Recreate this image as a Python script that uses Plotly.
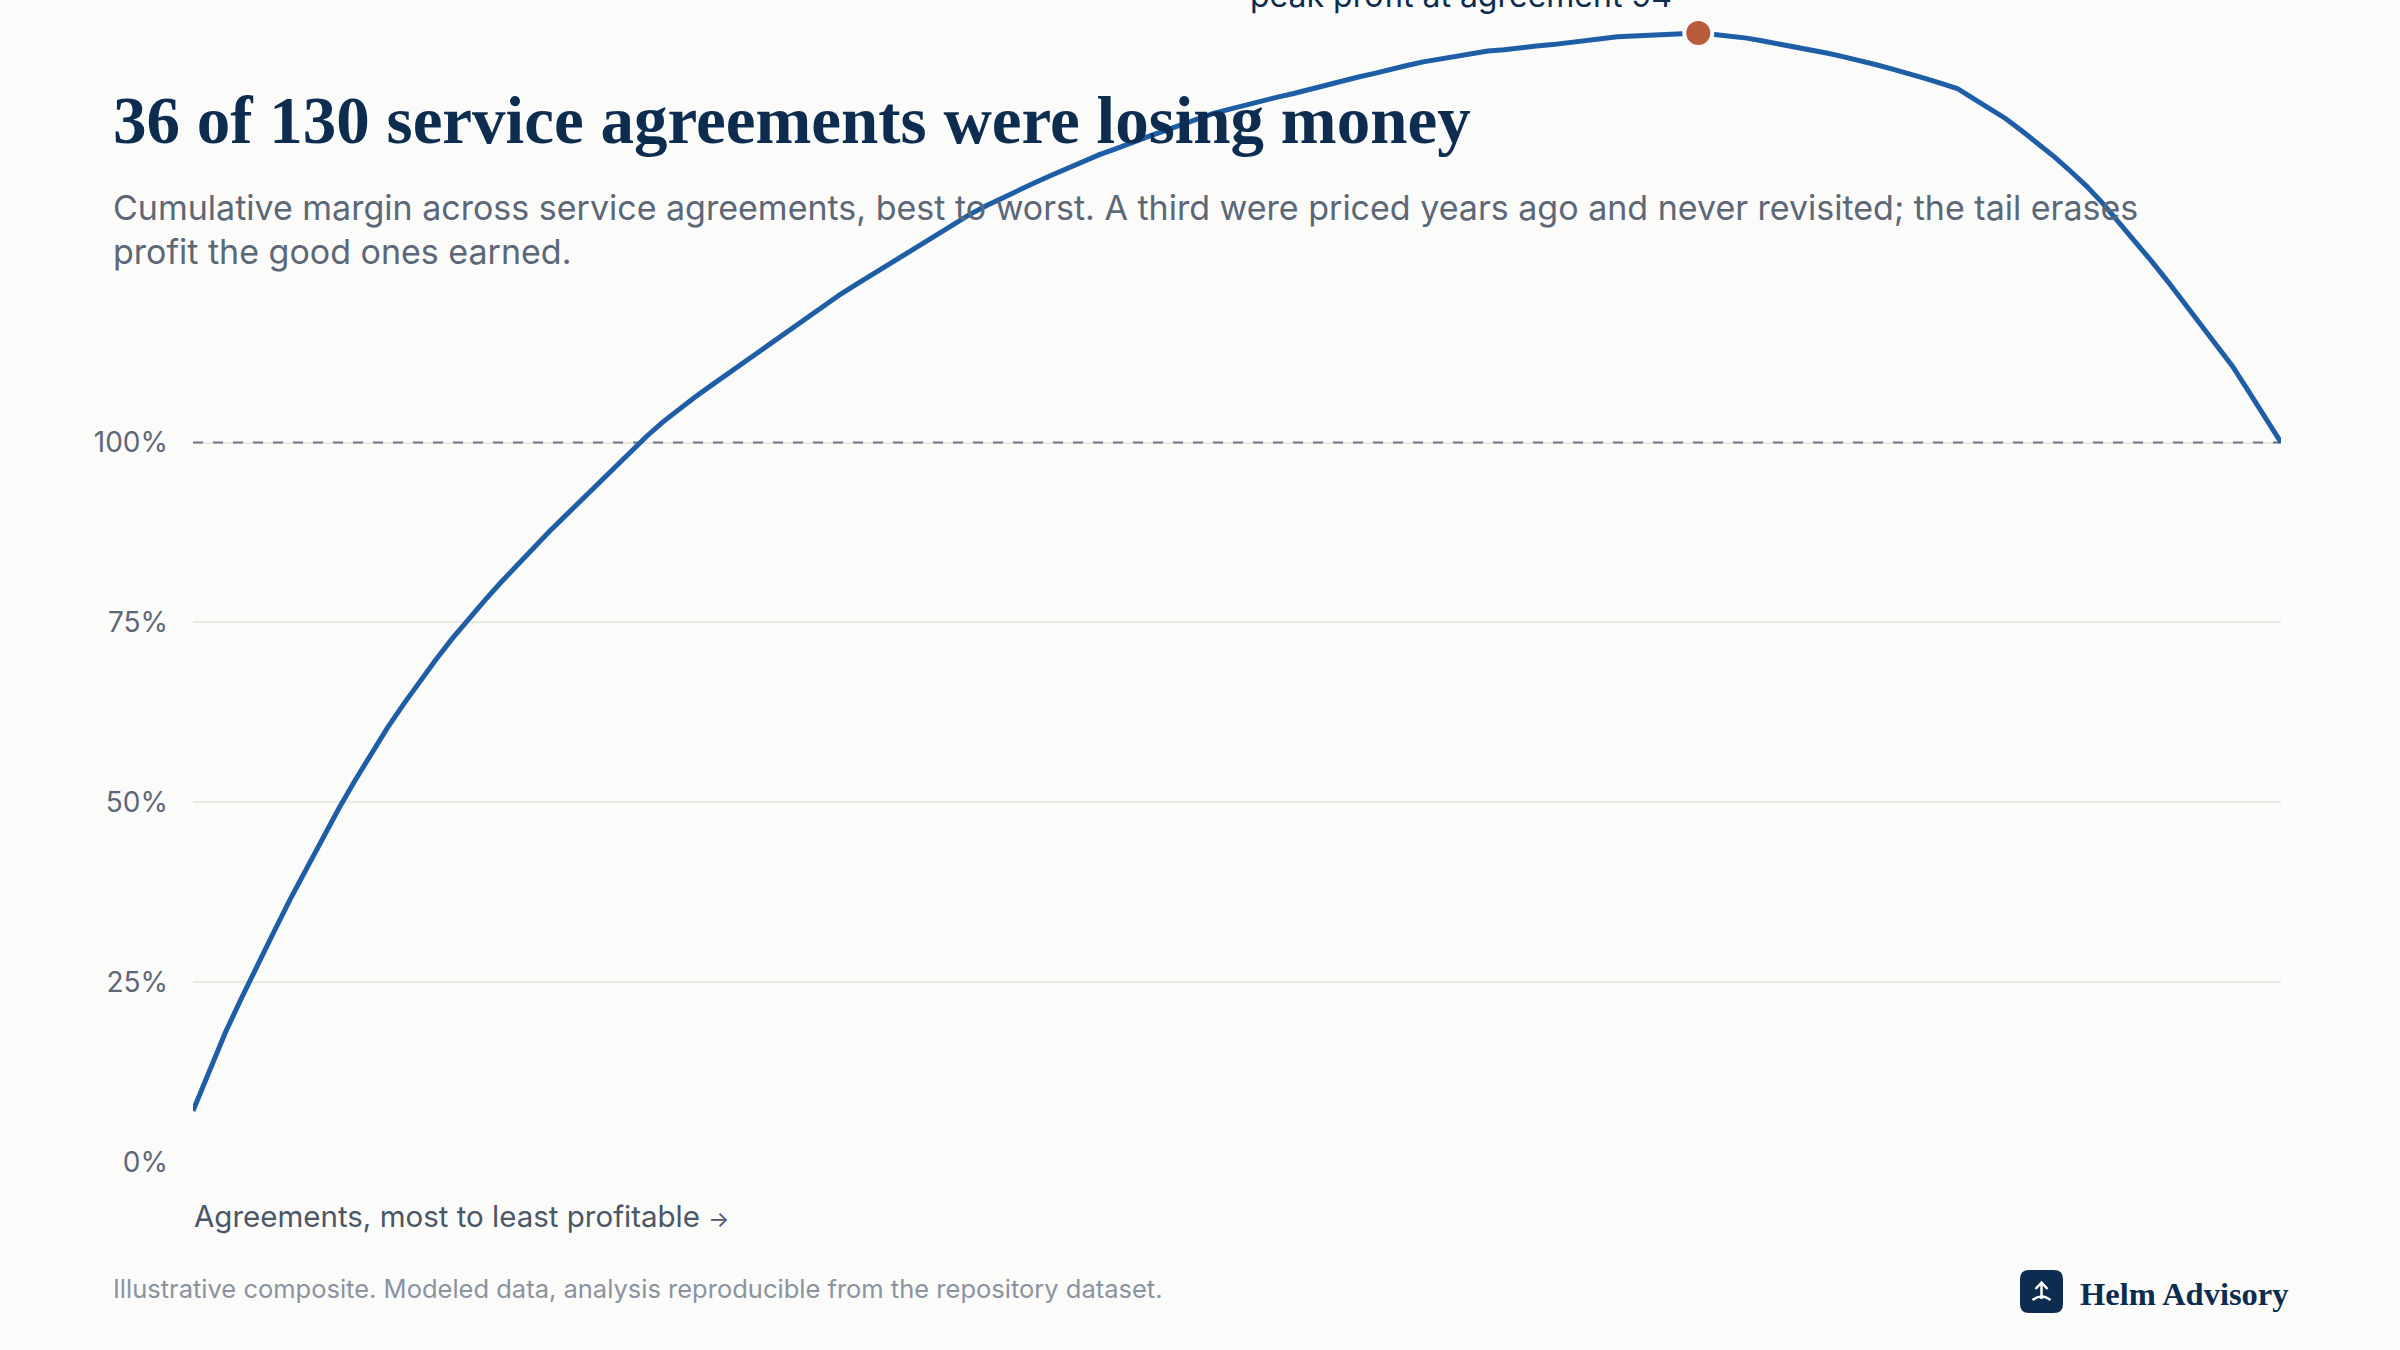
import plotly.graph_objects as go

# cumulative margin (% of final total), agreements sorted best -> worst
agreements = list(range(1, 131))
cum_margin = [
    7.1, 12.7, 18.0, 22.8, 27.5, 32.0, 36.5, 40.8, 45.0, 49.1,
    53.0, 56.8, 60.3, 63.6, 66.8, 69.8, 72.7, 75.4, 78.0, 80.5,
    82.9, 85.3, 87.6, 89.8, 92.0, 94.2, 96.4, 98.7, 100.8, 102.8,
    104.6, 106.3, 107.9, 109.5, 111.0, 112.6, 114.2, 115.8, 117.5, 119.1,
    120.6, 122.0, 123.4, 124.9, 126.3, 127.7, 129.1, 130.5, 131.7, 132.9,
    134.0, 135.1, 136.1, 137.1, 138.1, 139.1, 140.0, 140.8, 141.7, 142.5,
    143.3, 144.1, 144.9, 145.7, 146.3, 146.9, 147.5, 148.0, 148.5, 149.1,
    149.6, 150.2, 150.8, 151.3, 151.9, 152.4, 152.9, 153.3, 153.7, 154.1,
    154.4, 154.6, 154.9, 155.1, 155.3, 155.6, 155.9, 156.2, 156.4, 156.5,
    156.6, 156.7, 156.8, 156.9, 156.7, 156.5, 156.2, 155.8, 155.4, 155.0,
    154.6, 154.1, 153.6, 153.1, 152.5, 151.9, 151.3, 150.6, 149.9, 149.2,
    147.8, 146.5, 145.0, 143.3, 141.6, 139.7, 137.7, 135.6, 133.2, 130.6,
    128.0, 125.2, 122.4, 119.5, 116.6, 113.6, 110.6, 107.1, 103.6, 100.0,
]
ytick_vals = [0, 25, 50, 75, 100]
ytick_text = ["0%", "25%", "50%", "75%", "100%"]

title = "36 of 130 service agreements were losing money"
subtitle_lines = [
    "Cumulative margin across service agreements, best to worst. A third were priced years ago and never revisited; the tail erases",
    "profit the good ones earned.",
]
x_label = "Agreements, most to least profitable <span style='font-size:22px'>\u2192</span>"
footnote = "Illustrative composite. Modeled data, analysis reproducible from the repository dataset."
brand = "Helm Advisory"

peak_val = max(cum_margin)
peak_at = agreements[cum_margin.index(peak_val)]
peak_note = f"peak profit at agreement {peak_at}"

NAVY = "#0c2c50"
BLUE = "#1d5ea6"
RUST = "#b85b3a"
GREY = "#5c6777"
BG = "#fbfbf9"
SANS = "Inter, 'Noto Sans', sans-serif"
SERIF = "'Liberation Serif', 'DejaVu Serif', serif"

W, H = 2400, 1350
L, R, T, B = 193, 2281, 0, 1162


def px(x, y):
    # pixel position -> paper coords
    return (x - L) / (R - L), (B - y) / (B - T)


fig = go.Figure()
fig.add_trace(go.Scatter(
    x=agreements, y=cum_margin, mode="lines",
    line=dict(color=BLUE, width=5),
    hoverinfo="skip", showlegend=False,
))
fig.add_trace(go.Scatter(
    x=[peak_at], y=[peak_val], mode="markers",
    marker=dict(color=RUST, size=28, line=dict(color=BG, width=4)),
    cliponaxis=False, hoverinfo="skip", showlegend=False,
))

fig.add_shape(type="line", xref="x", yref="y", x0=agreements[0], x1=agreements[-1],
              y0=100, y1=100, layer="between",
              line=dict(color="#6b7686", width=2, dash="10px,10px"))

annotations = []


def note(text, x, y, size, color, family=SANS, anchor="left", weight=400):
    xp, yp = px(x, y)
    annotations.append(dict(
        text=text, x=xp, y=yp, xref="paper", yref="paper", showarrow=False,
        xanchor=anchor, yanchor="middle",
        font=dict(family=family, size=size, color=color, weight=weight),
    ))


note(title, 111, 120, 67, NAVY, family=SERIF, weight=700)
note(subtitle_lines[0], 111, 207, 34, GREY)
note(subtitle_lines[1], 111, 251, 34, GREY)
note(x_label, 192, 1216, 29.5, "#4b5667")
note(footnote, 111, 1288, 25.5, "#8a93a0")
note(brand, 2078, 1294, 32.5, NAVY, family=SERIF, weight=700)

annotations.append(dict(
    text=peak_note, x=peak_at, y=peak_val, xref="x", yref="y", showarrow=False,
    xanchor="right", yanchor="bottom", xshift=-24, yshift=16,
    font=dict(family=SANS, size=32, color=NAVY),
))

# logo mark: rounded navy square with a white up-arrow
x0, y0, x1, y1, r = 2020, 1270, 2063, 1313, 9


def P(x, y):
    a, b = px(x, y)
    return f"{a:.5f},{b:.5f}"


logo_path = (f"M {P(x0 + r, y0)} L {P(x1 - r, y0)} Q {P(x1, y0)} {P(x1, y0 + r)} "
             f"L {P(x1, y1 - r)} Q {P(x1, y1)} {P(x1 - r, y1)} L {P(x0 + r, y1)} "
             f"Q {P(x0, y1)} {P(x0, y1 - r)} L {P(x0, y0 + r)} Q {P(x0, y0)} {P(x0 + r, y0)} Z")
fig.add_shape(type="path", xref="paper", yref="paper", path=logo_path,
              fillcolor=NAVY, line=dict(width=0), layer="above")
cx = (x0 + x1) / 2
fig.add_shape(type="path", xref="paper", yref="paper",
              path=f"M {P(cx, 1283)} L {P(cx, 1299)}",
              line=dict(color="white", width=2.5), layer="above")
fig.add_shape(type="path", xref="paper", yref="paper",
              path=f"M {P(cx - 6, 1289)} L {P(cx, 1282.5)} L {P(cx + 6, 1289)}",
              line=dict(color="white", width=2.5), layer="above")
fig.add_shape(type="path", xref="paper", yref="paper",
              path=f"M {P(cx - 9, 1300)} Q {P(cx, 1293)} {P(cx + 9, 1300)}",
              line=dict(color="white", width=2.5), layer="above")

fig.update_layout(
    width=W, height=H,
    margin=dict(l=L, r=W - R, t=T, b=H - B, autoexpand=False),
    paper_bgcolor=BG, plot_bgcolor=BG,
    annotations=annotations,
    showlegend=False,
    xaxis=dict(range=[agreements[0], agreements[-1]], showgrid=False, zeroline=False,
               showticklabels=False, showline=False, fixedrange=True),
    yaxis=dict(range=[0, 161.5], tickvals=ytick_vals, ticktext=ytick_text,
               showgrid=True, gridcolor="#e8e8e5", gridwidth=1.5, zeroline=False,
               showline=False, ticks="", ticklabelstandoff=24,
               tickfont=dict(family=SANS, size=28, color=GREY), fixedrange=True),
)

fig.write_html("out.html", config={"displayModeBar": False},
               post_script="document.body.style.margin='0';")
